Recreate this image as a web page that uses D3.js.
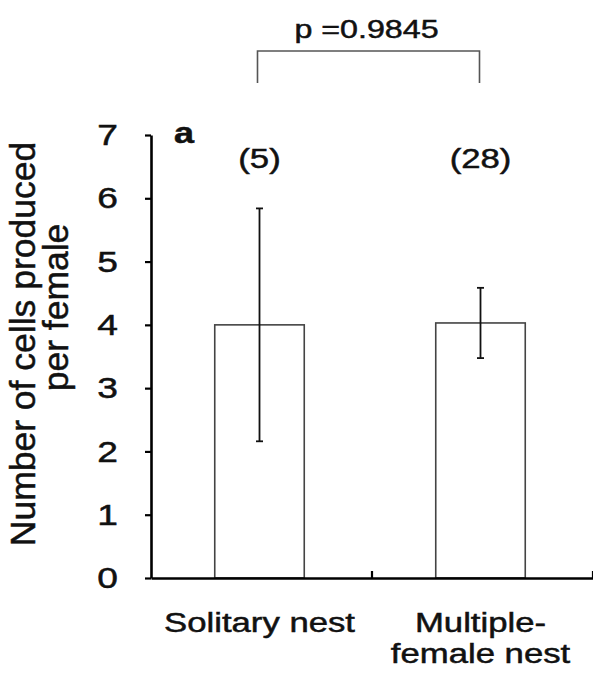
<!DOCTYPE html>
<html>
<head>
<meta charset="utf-8">
<script src="https://cdn.jsdelivr.net/npm/d3@7"></script>
<style>
  body { margin: 0; background: #fff; }
  text { font-family: "Liberation Sans", Arial, Helvetica, sans-serif; fill: #111; stroke: #111; stroke-width: 0.5px; }
</style>
</head>
<body>
<div id="chart"></div>
<script>

// data
var categories = ["Solitary nest", "Multiple-female nest"];
var categoryLines = [["Solitary nest"], ["Multiple-", "female nest"]];
var means = [4.0, 4.03];
var errors = [1.84, 0.555];
var sampleSizes = ["(5)", "(28)"];
var yTicks = [0, 1, 2, 3, 4, 5, 6, 7];
var pLabel = "p =0.9845";
var panelLabel = "a";
var yTitle = ["Number of cells produced", "per female"];

// the figure's lettering is a bit wide for its height
var stretch = 1.24;

var margin = {top: 135, right: 0, bottom: 97, left: 151},
    width = 593 - margin.left - margin.right,
    height = 675 - margin.top - margin.bottom;

var svg = d3.select("#chart")
  .append("svg")
    .attr("width", width + margin.left + margin.right)
    .attr("height", height + margin.top + margin.bottom)
  .append("g")
    .attr("transform", "translate(" + margin.left + "," + margin.top + ")");

var x = d3.scaleBand()
  .domain(categories)
  .range([0, width]);

var y = d3.scaleLinear()
  .domain([0, 7])
  .range([height, 0]);

var bw = x.bandwidth();
var barW = bw * 0.405;
// centre of each bar (sits a touch left of the band centre in the figure)
var cx = function(c) { return x(c) + bw / 2 - 2; };

var rows = categories.map(function(c, i) {
  return {cat: c, mean: means[i], err: errors[i], n: sampleSizes[i], lines: categoryLines[i]};
});

// wide text helper
function wide(sel, px, py) {
  return sel.attr("transform", "translate(" + px + "," + py + ") scale(" + stretch + ",1)");
}

// bars
svg.selectAll("rect.bar")
  .data(rows)
  .enter()
  .append("rect")
    .attr("class", "bar")
    .attr("x", function(d) { return cx(d.cat) - barW / 2; })
    .attr("y", function(d) { return y(d.mean); })
    .attr("width", barW)
    .attr("height", function(d) { return height - y(d.mean); })
    .style("fill", "#fff")
    .style("stroke", "#444")
    .style("stroke-width", 1.6);

// error bars
var eb = svg.selectAll("g.err")
  .data(rows)
  .enter()
  .append("g")
    .attr("class", "err")
    .style("stroke", "#111")
    .style("stroke-width", 1.8);

eb.append("line")
  .attr("x1", function(d) { return cx(d.cat); })
  .attr("x2", function(d) { return cx(d.cat); })
  .attr("y1", function(d) { return y(d.mean + d.err); })
  .attr("y2", function(d) { return y(d.mean - d.err); });

[1, -1].forEach(function(s) {
  eb.append("line")
    .attr("x1", function(d) { return cx(d.cat) - 3.5; })
    .attr("x2", function(d) { return cx(d.cat) + 3.5; })
    .attr("y1", function(d) { return y(d.mean + s * d.err); })
    .attr("y2", function(d) { return y(d.mean + s * d.err); });
});

// y axis
var yAxis = svg.append("g")
  .call(d3.axisLeft(y).tickValues(yTicks).tickFormat(d3.format("d")).tickSize(6).tickSizeOuter(0));
yAxis.select(".domain").style("stroke", "#000").style("stroke-width", 2.6);
yAxis.selectAll(".tick line").style("stroke", "#000").style("stroke-width", 2.2);
yAxis.selectAll(".tick text")
  .attr("x", -33 / stretch)
  .attr("transform", "scale(" + stretch + ",1)")
  .style("font-size", "30px")
  .style("fill", "#111");

// x axis: plain line, ticks at category boundaries pointing up
var xAxis = svg.append("g")
  .attr("transform", "translate(0," + height + ")")
  .call(d3.axisBottom(x).tickSize(0).tickFormat(""));
xAxis.select(".domain").style("stroke", "#000").style("stroke-width", 2.6);

svg.selectAll("line.xtick")
  .data(categories)
  .enter()
  .append("line")
    .attr("class", "xtick")
    .attr("x1", function(c) { return x(c) + bw; })
    .attr("x2", function(c) { return x(c) + bw; })
    .attr("y1", height)
    .attr("y2", height - 7)
    .style("stroke", "#000")
    .style("stroke-width", 2.2);

// category labels
rows.forEach(function(d) {
  d.lines.forEach(function(line, j) {
    wide(svg.append("text"), cx(d.cat), height + 54 + j * 31)
      .attr("text-anchor", "middle")
      .style("font-size", "28px")
      .text(line);
  });
});

// sample sizes
svg.selectAll("text.n")
  .data(rows)
  .enter()
  .append("text")
    .attr("class", "n")
    .attr("text-anchor", "middle")
    .attr("transform", function(d) {
      return "translate(" + cx(d.cat) + ",33) scale(" + stretch + ",1)";
    })
    .style("font-size", "28px")
    .text(function(d) { return d.n; });

// panel letter
wide(svg.append("text"), 23, 8)
  .style("font-size", "29px")
  .style("font-weight", "bold")
  .text(panelLabel);

// significance bracket
var bl = cx(categories[0]) - 2, br = cx(categories[1]) - 1;
svg.append("path")
  .attr("d", "M" + bl + ",-52V-84H" + br + "V-52")
  .style("fill", "none")
  .style("stroke", "#555")
  .style("stroke-width", 1.6);

wide(svg.append("text"), (bl + br) / 2 - 2, -97)
  .attr("text-anchor", "middle")
  .style("font-size", "26px")
  .text(pLabel);

// y title, two rotated lines
var titleCentres = [344, 307.5], titleBase = [35, 68];
yTitle.forEach(function(line, i) {
  d3.select("svg").append("text")
    .attr("transform", "translate(" + titleBase[i] + "," + titleCentres[i] + ") rotate(-90)")
    .attr("text-anchor", "middle")
    .style("font-size", "35.5px")
    .text(line);
});

</script>
</body>
</html>
